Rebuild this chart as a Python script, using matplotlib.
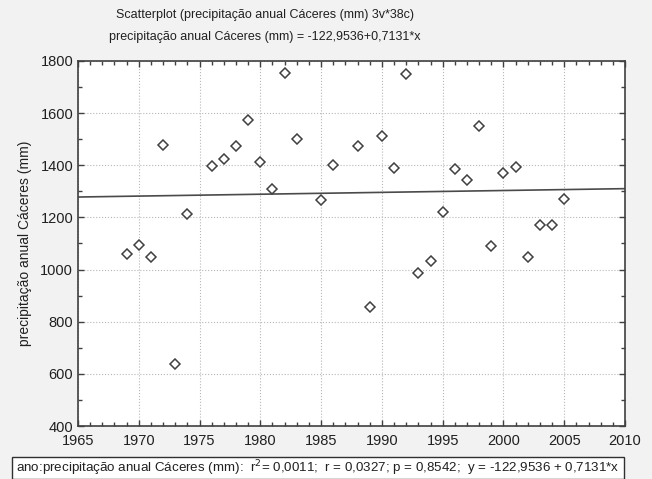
import matplotlib
matplotlib.use("Agg")
import matplotlib.pyplot as plt
from matplotlib.ticker import MultipleLocator
from matplotlib.patches import Rectangle
import numpy as np

plt.rcParams['font.family'] = ['Liberation Sans', 'DejaVu Sans']

# annual rainfall, Cáceres (mm)
anos = [1969, 1970, 1971, 1972, 1973, 1974, 1976, 1977, 1978, 1979, 1980,
        1981, 1982, 1983, 1985, 1986, 1988, 1989, 1990, 1991, 1992, 1993,
        1994, 1995, 1996, 1997, 1998, 1999, 2000, 2001, 2002, 2003, 2004, 2005]
precip = [1060, 1094, 1049, 1478, 638, 1213, 1396, 1423, 1473, 1575, 1411,
          1310, 1754, 1502, 1266, 1400, 1473, 857, 1512, 1391, 1750, 988,
          1033, 1221, 1384, 1345, 1551, 1090, 1372, 1392, 1049, 1172, 1172, 1269]

# fitted line y = a + b*x
a, b = -122.9536, 0.7131
x_lim = [1965, 2010]
y_lim = [400, 1800]

fig = plt.figure(figsize=(6.52, 4.79), dpi=100, facecolor='#f2f2f2')
ax = fig.add_axes([78 / 652, 53 / 479, 547 / 652, 365 / 479])
ax.set_facecolor('white')

xl = np.array(x_lim)
ax.plot(xl, a + b * xl, color='#4a4a4a', lw=1.2, zorder=2)
ax.plot(anos, precip, 'D', ms=4.7, mfc='white', mec='#404040', mew=1.1,
        linestyle='none', zorder=3)

ax.set_xlim(x_lim)
ax.set_ylim(y_lim)
ax.xaxis.set_major_locator(MultipleLocator(5))
ax.xaxis.set_minor_locator(MultipleLocator(1))
ax.yaxis.set_major_locator(MultipleLocator(200))
ax.yaxis.set_minor_locator(MultipleLocator(100))
ax.grid(True, which='major', color='#b8b8b8', linestyle=':', linewidth=0.8)
ax.tick_params(which='both', direction='in', top=True, right=True,
               color='#404040', labelsize=10.5, labelcolor='#202020')
ax.tick_params(which='major', length=4, width=1)
ax.tick_params(which='minor', length=3, width=1)
ax.tick_params(axis='x', pad=6)
for s in ax.spines.values():
    s.set_color('#404040')
    s.set_linewidth(1.2)

ax.set_ylabel('precipitação anual Cáceres (mm)', fontsize=10, color='#202020', labelpad=6)

fig.text(265 / 652, 1 - 15 / 479, 'Scatterplot (precipitação anual Cáceres (mm) 3v*38c)',
         ha='center', va='center', fontsize=9, color='#202020')
fig.text(265 / 652, 1 - 37 / 479, 'precipitação anual Cáceres (mm) = -122,9536+0,7131*x',
         ha='center', va='center', fontsize=9, color='#202020')

# summary box below the plot
fig.patches.append(Rectangle((12 / 652, 0), 612 / 652, 22 / 479, transform=fig.transFigure,
                             facecolor='white', edgecolor='#303030', lw=1.0))
fig.text(318 / 652, 11 / 479,
         'ano:precipitação anual Cáceres (mm):  r$^2$= 0,0011;  r = 0,0327; p = 0,8542;  y = -122,9536 + 0,7131*x',
         ha='center', va='center', fontsize=9.6, color='#202020')

fig.savefig('out.png', dpi=100, facecolor=fig.get_facecolor())
